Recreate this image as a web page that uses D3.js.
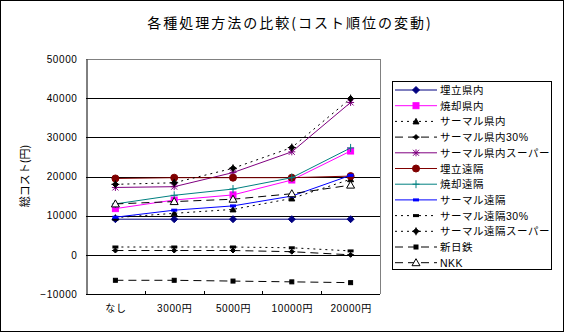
<!DOCTYPE html>
<html><head><meta charset="utf-8">
<script src="https://cdn.jsdelivr.net/npm/d3@7"></script>
<style>body{margin:0;background:#fff}svg{display:block}</style>
</head><body><svg id="c" width="564" height="332"></svg>
<script>
const categories = ["なし","3000円","5000円","10000円","20000円"];
const yTicks = [-10000,0,10000,20000,30000,40000,50000];
const seriesNames = ["埋立県内","焼却県内","サーマル県内","サーマル県内30%","サーマル県内スーパー","埋立遠隔","焼却遠隔","サーマル遠隔","サーマル遠隔30%","サーマル遠隔スーパー","新日鉄","NKK"];
const umetateKennai      = [9100,9100,9100,9100,9100];
const shokyakuKennai     = [11800,14000,15300,19100,26500];
const thermalKennai      = [9500,10600,11600,14400,19300];
const thermalKennai30    = [1100,1100,1100,800,0];
const thermalKennaiSuper = [17200,17400,21000,26300,38900];
const umetateEnkaku      = [19500,19700,19700,19700,20100];
const shokyakuEnkaku     = [13000,15200,16800,19700,27300];
const thermalEnkaku      = [9600,11400,12500,15000,20300];
const thermalEnkaku30    = [2000,2000,2000,1800,1000];
const thermalEnkakuSuper = [18000,18400,22100,27400,39900];
const nipponSteel        = [-6500,-6500,-6700,-6900,-7100];
const nkk                = [13000,13600,14200,15600,17800];

const seriesValues = [umetateKennai,shokyakuKennai,thermalKennai,thermalKennai30,thermalKennaiSuper,umetateEnkaku,shokyakuEnkaku,thermalEnkaku,thermalEnkaku30,thermalEnkakuSuper,nipponSteel,nkk];
const styles = [
  {c:"#000080",d:null,m:"diamond"},
  {c:"#FF00FF",d:null,m:"square"},
  {c:"#000000",d:"2,4",m:"triangle"},
  {c:"#000000",d:"8,5",m:"smalldiamond"},
  {c:"#800080",d:null,m:"asterisk"},
  {c:"#800000",d:null,m:"circle"},
  {c:"#008080",d:null,m:"plus"},
  {c:"#0000FF",d:null,m:"dash"},
  {c:"#000000",d:"2,4",m:"dash"},
  {c:"#000000",d:"2,4",m:"stardiamond"},
  {c:"#000000",d:"8,5",m:"smallsquare"},
  {c:"#000000",d:"8,5",m:"opentriangle"}
];

const svg = d3.select("#c");
svg.append("rect").attr("x",0.5).attr("y",0.5).attr("width",563).attr("height",331)
  .attr("fill","#fff").attr("stroke","#000");

const L=86,R=380,T=59,B=294;
const x = d3.scalePoint().domain(categories).range([L,R]).padding(0.5);
const y = d3.scaleLinear().domain([-10000,50000]).range([B,T]);
const font = "'Liberation Sans','Noto Sans CJK JP',sans-serif";

svg.append("line").attr("x1",L).attr("x2",R+0.5).attr("y1",T+0.5).attr("y2",T+0.5).attr("stroke","#808080");
svg.append("line").attr("x1",R+0.5).attr("x2",R+0.5).attr("y1",T).attr("y2",B).attr("stroke","#808080");
svg.append("g").selectAll("line").data(yTicks.filter(v=>v>-10000&&v<50000)).join("line")
  .attr("x1",L).attr("x2",R).attr("y1",d=>Math.round(y(d))+0.5).attr("y2",d=>Math.round(y(d))+0.5)
  .attr("stroke","#000");

const ya = svg.append("g").attr("transform",`translate(${L+0.5},0)`)
  .call(d3.axisLeft(y).tickValues(yTicks).tickSize(0).tickPadding(9).tickFormat(d3.format("d")));
ya.select(".domain").attr("stroke","#000");
ya.selectAll("text").attr("font-family",font).attr("font-size","10px").attr("letter-spacing","0.6px").attr("fill","#000");

const xa = svg.append("g").attr("transform",`translate(0,${B+0.5})`)
  .call(d3.axisBottom(x).tickSize(0).tickPadding(10));
xa.select(".domain").remove();
xa.selectAll("text").attr("font-family",font).attr("font-size","10px").attr("letter-spacing","0.6px").attr("fill","#000");
svg.append("line").attr("x1",L).attr("x2",R).attr("y1",B+0.5).attr("y2",B+0.5).attr("stroke","#000");
const step = x.step();
svg.append("g").selectAll("line").data(categories.slice(1)).join("line")
  .attr("x1",d=>Math.round(x(d)-step/2)+0.5).attr("x2",d=>Math.round(x(d)-step/2)+0.5)
  .attr("y1",B-3).attr("y2",B).attr("stroke","#000");

function marker(g, type, color, cx, cy){
  switch(type){
    case "diamond": g.append("path").attr("d",`M${cx},${cy-3.5}L${cx+3.5},${cy}L${cx},${cy+3.5}L${cx-3.5},${cy}Z`).attr("fill",color).attr("stroke",color); break;
    case "square": g.append("rect").attr("x",cx-3).attr("y",cy-3).attr("width",6).attr("height",6).attr("fill",color).attr("stroke",color); break;
    case "smallsquare": g.append("rect").attr("x",cx-2).attr("y",cy-2).attr("width",4).attr("height",4).attr("fill",color).attr("stroke",color); break;
    case "triangle": g.append("path").attr("d",`M${cx},${cy-3}L${cx+3},${cy+2.5}L${cx-3},${cy+2.5}Z`).attr("fill",color).attr("stroke",color); break;
    case "opentriangle": g.append("path").attr("d",`M${cx},${cy-4}L${cx+4},${cy+3}L${cx-4},${cy+3}Z`).attr("fill","#fff").attr("stroke",color); break;
    case "smalldiamond": g.append("path").attr("d",`M${cx},${cy-2.5}L${cx+2.5},${cy}L${cx},${cy+2.5}L${cx-2.5},${cy}Z`).attr("fill",color).attr("stroke",color);
      g.append("path").attr("d",`M${cx-3.5},${cy}H${cx+3.5}`).attr("stroke",color); break;
    case "stardiamond": g.append("path").attr("d",`M${cx},${cy-3}L${cx+3},${cy}L${cx},${cy+3}L${cx-3},${cy}Z`).attr("fill",color).attr("stroke",color);
      g.append("path").attr("d",`M${cx-4},${cy}H${cx+4}M${cx},${cy-4}V${cy+4}`).attr("stroke",color); break;
    case "asterisk": g.append("path").attr("d",`M${cx-3},${cy-3}L${cx+3},${cy+3}M${cx+3},${cy-3}L${cx-3},${cy+3}M${cx},${cy-3.5}V${cy+3.5}M${cx-3.5},${cy}H${cx+3.5}`).attr("stroke",color).attr("fill","none"); break;
    case "circle": g.append("circle").attr("cx",cx).attr("cy",cy).attr("r",3.5).attr("fill",color).attr("stroke",color); break;
    case "plus": g.append("path").attr("d",`M${cx-3.5},${cy}H${cx+3.5}M${cx},${cy-4}V${cy+4}`).attr("stroke",color).attr("fill","none"); break;
    case "dash": g.append("rect").attr("x",cx-3).attr("y",cy-1.5).attr("width",6).attr("height",3).attr("fill",color); break;
  }
}

const line = d3.line().x((d,i)=>x(categories[i])).y(d=>y(d));
seriesValues.forEach((vals,k)=>{
  const st = styles[k];
  const g = svg.append("g");
  g.append("path").attr("d",line(vals)).attr("fill","none").attr("stroke",st.c).attr("stroke-width",1)
    .attr("stroke-dasharray",st.d);
  vals.forEach((v,i)=>marker(g, st.m, st.c, x(categories[i]), y(v)));
});

svg.append("text").attr("x",290).attr("y",28).attr("text-anchor","middle")
  .attr("font-family","'Noto Sans CJK JP',sans-serif").attr("font-size","14px").attr("letter-spacing","2px")
  .text("各種処理方法の比較(コスト順位の変動)");
svg.append("text").attr("transform","translate(29,176) rotate(-90)").attr("text-anchor","middle")
  .attr("font-family","'Noto Sans CJK JP',sans-serif").attr("font-size","11px")
  .text("総コスト(円)");

const lg = svg.append("g");
lg.append("rect").attr("x",392.5).attr("y",81.5).attr("width",159).attr("height",188).attr("fill","#fff").attr("stroke","#000");
const ly = d3.scaleLinear().domain([0,seriesNames.length-1]).range([90,262.7]);
seriesNames.forEach((n,k)=>{
  const st = styles[k];
  const yy = ly(k);
  lg.append("line").attr("x1",395).attr("x2",437).attr("y1",yy).attr("y2",yy).attr("stroke",st.c).attr("stroke-dasharray",st.d);
  marker(lg, st.m, st.c, 416, yy);
  lg.append("text").attr("x",440).attr("y",yy+4).attr("font-family",font).attr("font-size","10.5px")
    .attr("letter-spacing","0.5px").text(n);
});
</script></body></html>
